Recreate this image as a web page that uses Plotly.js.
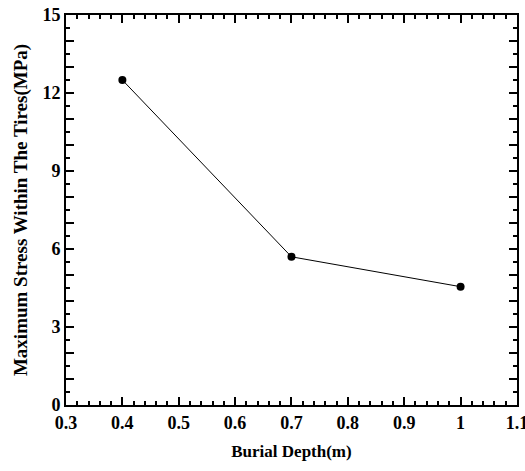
<!DOCTYPE html>
<html>
<head>
<meta charset="utf-8">
<script src="https://cdn.plot.ly/plotly-3.0.1.min.js"></script>
<style>html,body{margin:0;padding:0;background:#fff;}#chart{width:525px;height:471px;}</style>
</head>
<body>
<div id="chart"></div>
<script>
const depth = [0.4, 0.7, 1.0];
const stress = [12.5, 5.7, 4.55];
const xTickVals = [0.3,0.4,0.5,0.6,0.7,0.8,0.9,1.0,1.1];
const xTickText = ['0.3','0.4','0.5','0.6','0.7','0.8','0.9','1','1.1'];
const yTickVals = [0,1,2,3,4,5,6,7,8,9,10,11,12,13,14,15];
const yTickText = ['0','','','3','','','6','','','9','','','12','','','15'];

const fam = 'Liberation Serif';
const bold = s => s === '' ? '' : '<b>' + s + '</b>';

// minor tick positions (axis decoration only)
const xMinor = [];
for (let i = 0; i <= 40; i++) { if (i % 5 !== 0) xMinor.push(+(0.3 + i * 0.02).toFixed(2)); }
const yMinor = [];
for (let i = 0; i < 15; i++) yMinor.push(i + 0.5);

const xRange = [0.3, 1.1001];
const yRange = [0, 15.0001];

const common = {
  ticks: 'inside', tickwidth: 2, tickcolor: '#000',
  showgrid: false, zeroline: false, automargin: false
};

Plotly.newPlot('chart', [
  {
    x: depth, y: stress, type: 'scatter', mode: 'lines+markers',
    line: {color: '#000', width: 1},
    marker: {color: '#000', size: 8},
    hoverinfo: 'skip'
  },
  {x: [], y: [], type: 'scatter', mode: 'markers', xaxis: 'x2', yaxis: 'y2', hoverinfo: 'skip'}
], {
  width: 525, height: 471,
  margin: {l: 66, r: 8, t: 15, b: 66},
  paper_bgcolor: '#fff', plot_bgcolor: '#fff',
  showlegend: false,
  font: {family: fam, size: 18, color: '#000'},
  xaxis: Object.assign({}, common, {
    range: xRange, tickmode: 'array', tickvals: xTickVals, ticktext: xTickText.map(bold),
    ticklen: 8, showline: true, linewidth: 2, linecolor: '#000', mirror: 'ticks',
    ticklabeloverflow: 'allow',
    tickfont: {family: fam, size: 18, color: '#000'},
    title: {text: '<b>Burial Depth(m)</b>', font: {family: fam, size: 17, color: '#000'}, standoff: 14}
  }),
  yaxis: Object.assign({}, common, {
    range: yRange, tickmode: 'array', tickvals: yTickVals, ticktext: yTickText.map(bold),
    ticklen: 8, showline: true, linewidth: 2, linecolor: '#000', mirror: 'ticks',
    tickfont: {family: fam, size: 18, color: '#000'},
    title: {text: '<b>Maximum Stress Within The Tires(MPa)</b>', font: {family: fam, size: 19, color: '#000'}, standoff: 10}
  }),
  xaxis2: Object.assign({}, common, {
    overlaying: 'x', anchor: 'y', side: 'bottom',
    range: xRange, tickmode: 'array', tickvals: xMinor, ticklen: 4,
    showticklabels: false, showline: false, mirror: 'ticks'
  }),
  yaxis2: Object.assign({}, common, {
    overlaying: 'y', anchor: 'x', side: 'left',
    range: yRange, tickmode: 'array', tickvals: yMinor, ticklen: 4,
    showticklabels: false, showline: false, mirror: 'ticks'
  })
}, {staticPlot: true});
</script>
</body>
</html>
